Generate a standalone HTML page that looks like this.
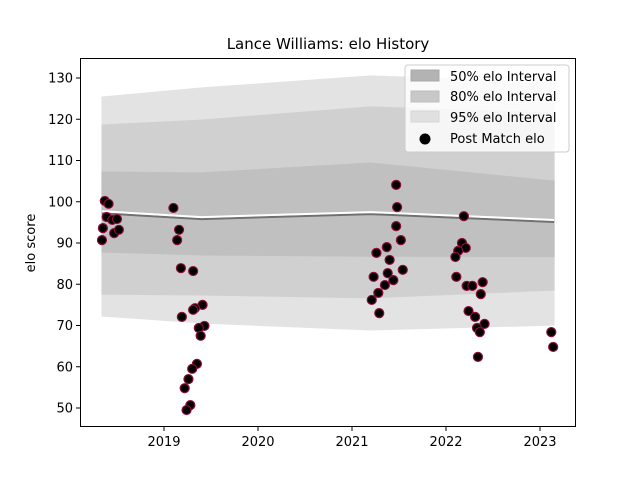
<!DOCTYPE html>
<html><head><meta charset="utf-8">
<style>
body{margin:0;background:#fff;}
svg{display:block;font-family:"DejaVu Sans","Liberation Sans",sans-serif;}
</style></head>
<body>
<svg id="chart" width="640" height="480" viewBox="0 0 640 480">
<rect width="640" height="480" fill="#fff"/>
<text x="328" y="49" text-anchor="middle" font-size="15">Lance Williams: elo History</text>
<g id="bands"></g>
<g id="lines"></g>
<g id="points"></g>
<g id="axes"></g>
<text transform="translate(35,243) rotate(-90)" text-anchor="middle" font-size="13">elo score</text>
<g>
<rect x="405" y="65" width="164" height="87" rx="3" fill="#fff" fill-opacity="0.8" stroke="#ccc"/>
<rect x="411" y="70" width="28" height="11" fill="#b3b3b3" stroke="#a8a8a8"/>
<text x="450" y="81" font-size="13">50% elo Interval</text>
<rect x="411" y="91" width="28" height="11" fill="#c8c8c8" stroke="#bdbdbd"/>
<text x="450" y="101" font-size="13">80% elo Interval</text>
<rect x="411" y="111" width="28" height="11" fill="#e0e0e0" stroke="#d6d6d6"/>
<text x="450" y="122" font-size="13">95% elo Interval</text>
<circle cx="425" cy="139" r="5.5" fill="#000"/>
<text x="450" y="143" font-size="13">Post Match elo</text>
</g>
</svg>
<script>
const bandTimes=[2018.34,2019.4,2021.2,2023.15];
const meanVals=[97.2,95.8,97.0,95.1];
const up50=[107.2,107.0,109.4,105.0];
const lo50=[87.8,87.1,86.8,86.7];
const up80=[118.6,119.8,123.0,121.5];
const lo80=[77.6,77.4,76.7,78.6];
const up95=[125.4,127.6,130.5,129.0];
const lo95=[72.3,70.6,68.9,70.1];
const matchDates=[2018.37,2018.41,2018.39,2018.45,2018.50,2018.35,2018.47,2018.52,2018.34,
2019.10,2019.16,2019.14,2019.18,2019.31,2019.41,2019.33,2019.31,2019.19,2019.43,2019.37,2019.39,2019.35,2019.30,2019.26,2019.22,2019.28,2019.24,
2021.47,2021.48,2021.47,2021.52,2021.37,2021.26,2021.40,2021.54,2021.23,2021.38,2021.44,2021.35,2021.28,2021.21,2021.29,
2022.19,2022.17,2022.21,2022.13,2022.10,2022.11,2022.22,2022.28,2022.39,2022.37,2022.24,2022.31,2022.41,2022.33,2022.36,2022.34,
2023.12,2023.14];
const matchElo=[100.2,99.5,96.3,95.6,95.8,93.6,92.4,93.2,90.7,
98.5,93.2,90.7,83.9,83.2,75.0,74.2,73.8,72.1,69.9,69.4,67.5,60.7,59.5,57.0,54.8,50.7,49.5,
104.1,98.7,94.1,90.7,89.0,87.6,85.9,83.5,81.8,82.7,81.0,79.8,77.9,76.2,73.0,
96.5,90.0,88.8,88.1,86.6,81.8,79.6,79.6,80.5,77.6,73.5,72.1,70.4,69.4,68.4,62.4,
68.4,64.8];
const yTicks=[50,60,70,80,90,100,110,120,130];
const xTicks=[2019,2020,2021,2022,2023];

const NS="http://www.w3.org/2000/svg";
const X=t=>164+(t-2019)*94;
const Y=v=>408-(v-50)*4.125;
function mk(tag,attrs,parent){const e=document.createElementNS(NS,tag);for(const k in attrs)e.setAttribute(k,attrs[k]);parent.appendChild(e);return e;}
const bands=document.getElementById('bands');
function band(up,lo,fill,name){
  let d='M'+bandTimes.map((t,i)=>X(t)+','+Y(up[i])).join('L');
  d+='L'+bandTimes.slice().reverse().map((t,j)=>{const i=bandTimes.length-1-j;return X(t)+','+Y(lo[i]);}).join('L')+'Z';
  const p=mk('path',{d:d,fill:fill,stroke:fill},bands);
  
  
}
band(up95,lo95,'#e3e3e3','band-95');
band(up80,lo80,'#d0d0d0','band-80');
band(up50,lo50,'#c0c0c0','band-50');
const lines=document.getElementById('lines');
const ml=mk('polyline',{points:bandTimes.map((t,i)=>X(t)+','+Y(meanVals[i])).join(' '),fill:'none',stroke:'#707070',"stroke-width":2},lines);


const wl=mk('polyline',{points:bandTimes.map((t,i)=>X(t)+','+(Y(meanVals[i])-2)).join(' '),fill:'none',stroke:'#fff',"stroke-width":2},lines);


const pts=document.getElementById('points');
matchDates.forEach((t,i)=>{
  const c=mk('circle',{cx:X(t),cy:Y(matchElo[i]),r:4.5,fill:'#000',stroke:'#8b0a3a',"stroke-width":1.2},pts);
  
  
});
const axes=document.getElementById('axes');
const fr=mk('rect',{x:80.5,y:58.5,width:495,height:368,fill:'none',stroke:'#000'},axes);


yTicks.forEach(v=>{
  mk('line',{x1:76,x2:80,y1:Y(v),y2:Y(v),stroke:'#000'},axes);
  const t=mk('text',{x:73,y:Y(v)+4.5,"text-anchor":"end","font-size":13},axes);
  t.textContent=v;
  
  
});
xTicks.forEach(v=>{
  mk('line',{x1:X(v),x2:X(v),y1:427,y2:431,stroke:'#000'},axes);
  const t=mk('text',{x:X(v),y:446,"text-anchor":"middle","font-size":13},axes);
  t.textContent=v;
  
  
});
</script>
</body></html>
